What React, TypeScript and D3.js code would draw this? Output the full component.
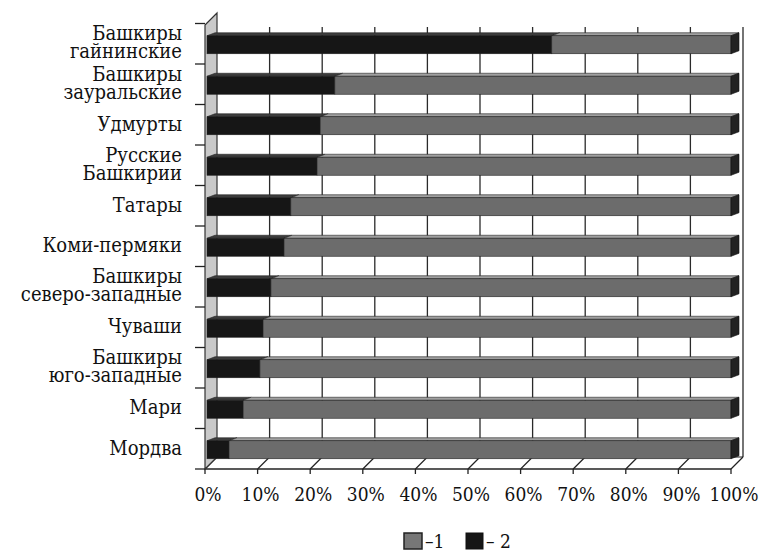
import React from "react";
import * as d3 from "d3";

const categories: string[][] = [
  ["Башкиры", "гайнинские"],
  ["Башкиры", "зауральские"],
  ["Удмурты"],
  ["Русские", "Башкирии"],
  ["Татары"],
  ["Коми-пермяки"],
  ["Башкиры", "северо-западные"],
  ["Чуваши"],
  ["Башкиры", "юго-западные"],
  ["Мари"],
  ["Мордва"],
];
const series2: number[] = [65.8, 24.4, 21.6, 21.0, 16.0, 14.7, 12.2, 10.7, 10.1, 6.9, 4.2];
const series1: number[] = series2.map((v) => 100 - v);
const xTicks: number[] = [0, 10, 20, 30, 40, 50, 60, 70, 80, 90, 100];
const legendLabels: string[] = ["–1", "– 2"];

const W = 763;
const H = 551;
const DX = 12;
const DY = -12;
const FONT = '"DejaVu Serif Condensed", "DejaVu Serif", serif';

export default function App() {
  const keys = categories.map((c) => c.join(" "));
  const x = d3.scaleLinear().domain([0, 100]).range([205, 731]);
  const xb = d3.scaleLinear().domain([0, 100]).range([207, 731]);
  const y = d3.scaleBand<string>().domain(keys).range([23.5, 469]).padding(0);
  const floorY = 469;
  const topY = 25;
  const barH = 18;
  const tdx = 8;
  const tdy = -3;

  const bars = keys.map((k, i) => {
    const cy = (y(k) as number) + y.bandwidth() / 2 + 1;
    const top = cy - barH / 2;
    const bot = cy + barH / 2;
    const segs = [
      { from: 0, to: series2[i], front: "#161616", topc: "#3c3c3c", cap: "#111" },
      { from: series2[i], to: series2[i] + series1[i], front: "#6c6c6c", topc: "#a0a0a0", cap: "#222" },
    ];
    return (
      <g key={k}>
        {segs.map((s, j) => {
          const x0 = xb(s.from);
          const x1 = xb(s.to);
          return (
            <g key={j}>
              <polygon
                points={`${x0},${top} ${x1},${top} ${x1 + tdx},${top + tdy} ${x0 + tdx},${top + tdy}`}
                fill={s.topc}
                stroke="#222"
                strokeWidth={0.6}
              />
              <rect x={x0} y={top} width={x1 - x0} height={barH} fill={s.front} stroke="#222" strokeWidth={0.6} />
              {j === 1 && (
                <polygon
                  points={`${x1},${top} ${x1 + tdx},${top + tdy} ${x1 + tdx},${bot + tdy} ${x1},${bot}`}
                  fill={s.cap}
                  stroke="#111"
                  strokeWidth={0.6}
                />
              )}
            </g>
          );
        })}
      </g>
    );
  });

  const txt = (size: number) => ({ fontFamily: FONT, fontSize: size, fontStretch: "condensed" as const });

  return (
    <svg width={W} height={H} style={{ position: "absolute", left: 0, top: 0, background: "#fff" }}>
      <rect x={0} y={0} width={W} height={H} fill="#fff" />
      {xTicks.slice(1).map((t) => (
        <line key={"g" + t} x1={x(t) + DX} x2={x(t) + DX} y1={27} y2={floorY + DY} stroke="#2a2a2a" strokeWidth={1.3} />
      ))}
      <line x1={x(0)} x2={x(100)} y1={floorY} y2={floorY} stroke="#222" strokeWidth={1.5} />
      <line x1={x(0) + DX} x2={x(100) + DX} y1={floorY + DY} y2={floorY + DY} stroke="#222" strokeWidth={1.2} />
      {xTicks.map((t) => (
        <g key={"f" + t}>
          <line x1={x(t)} x2={x(t) + DX} y1={floorY} y2={floorY + DY} stroke="#222" strokeWidth={1.2} />
          <line x1={x(t)} x2={x(t)} y1={floorY} y2={floorY + 5} stroke="#222" strokeWidth={1.3} />
        </g>
      ))}
      <polygon
        points={`${x(0)},${topY} ${x(0) + DX},${topY + DY} ${x(0) + DX},${floorY + DY} ${x(0)},${floorY}`}
        fill="#c9c9c9"
        stroke="#333"
        strokeWidth={1.2}
      />
      {[...keys.map((k) => y(k) as number), floorY].map((ty, i) => (
        <line key={"t" + i} x1={195} x2={x(0)} y1={ty} y2={ty} stroke="#222" strokeWidth={1.3} />
      ))}
      {bars}
      {keys.map((k, i) => {
        const cy = (y(k) as number) + y.bandwidth() / 2;
        const lines = categories[i];
        return (
          <text key={"l" + k} x={182} textAnchor="end" style={txt(20)} fill="#111">
            {lines.map((ln, j) => (
              <tspan key={j} x={182} y={lines.length === 1 ? cy + 6 : cy - 3.5 + j * 18}>
                {ln}
              </tspan>
            ))}
          </text>
        );
      })}
      {xTicks.map((t) => (
        <text key={"x" + t} x={x(t) + 3} y={501} textAnchor="middle" style={txt(19)} fill="#111">
          {t}%
        </text>
      ))}
      <rect x={404} y={533} width={18} height={16} fill="#777" stroke="#222" strokeWidth={1.5} />
      <text x={425} y={548} style={txt(19)} fill="#111">{legendLabels[0]}</text>
      <rect x={466} y={533} width={17} height={16} fill="#161616" stroke="#111" strokeWidth={1} />
      <text x={486} y={548} style={txt(19)} fill="#111">{legendLabels[1]}</text>
    </svg>
  );
}
